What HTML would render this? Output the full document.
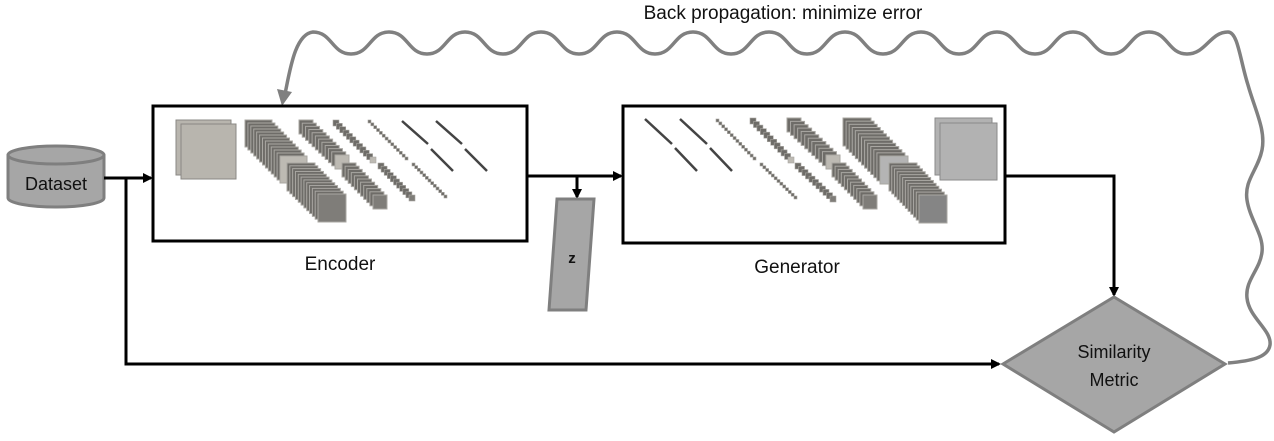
<!DOCTYPE html>
<html><head><meta charset="utf-8"><style>
html,body{margin:0;padding:0;background:#fff;}
svg{display:block;}
text{font-family:"Liberation Sans",sans-serif;}
</style></head><body>
<svg id="s" width="1274" height="441" viewBox="0 0 1274 441" xmlns="http://www.w3.org/2000/svg">
<defs>
<marker id="ab" markerWidth="10" markerHeight="10" refX="8" refY="5" orient="auto" markerUnits="userSpaceOnUse"><path d="M0,0 L10,5 L0,10 z" fill="#000"/></marker>
</defs>
<text x="783" y="19" font-size="19" text-anchor="middle" fill="#111">Back propagation: minimize error</text>
<path fill="none" stroke="#808080" stroke-width="3.5" d="M285,94 C290,70 295,34 313,32
C332,32 332,54 351,54 C370,54 370,32 389,32
C408,32 408,54 427,54 C446,54 446,32 465,32
C484,32 484,54 503,54 C522,54 522,32 541,32
C560,32 560,54 579,54 C598,54 598,32 617,32
C636,32 636,54 655,54 C674,54 674,32 693,32
C712,32 712,54 731,54 C750,54 750,32 769,32
C788,32 788,54 807,54 C826,54 826,32 845,32
C864,32 864,54 883,54 C902,54 902,32 921,32
C940,32 940,54 959,54 C978,54 978,32 997,32
C1016,32 1016,54 1035,54 C1054,54 1054,32 1073,32
C1092,32 1092,54 1111,54 C1130,54 1130,32 1149,32
C1168,32 1168,54 1187,54 C1206,54 1210,32 1228,32
C1238,32 1240,60 1248,85 C1255,110 1266,130 1262,150 C1258,170 1244,180 1247,200 C1250,220 1264,235 1262,252 C1260,270 1245,280 1247,298 C1249,318 1272,330 1270,345 C1268,358 1250,361 1228,363"/>
<polygon points="282,106 277,89 292,92" fill="#808080"/>
<path d="M8,155 L8,198 A48,9 0 0 0 104,198 L104,155" fill="#a6a6a6" stroke="#7f7f7f" stroke-width="3"/>
<ellipse cx="56" cy="155" rx="48" ry="9" fill="#a6a6a6" stroke="#7f7f7f" stroke-width="3"/>
<text x="56" y="190" font-size="18" text-anchor="middle" fill="#111">Dataset</text>
<rect x="153" y="106" width="374" height="135" fill="#fff" stroke="#000" stroke-width="3"/>
<rect x="623" y="106" width="382" height="137" fill="#fff" stroke="#000" stroke-width="3"/>
<g id="layers"></g>
<text x="340" y="270" font-size="19" text-anchor="middle" fill="#111">Encoder</text>
<text x="797" y="273" font-size="19" text-anchor="middle" fill="#111">Generator</text>
<line x1="104" y1="178" x2="151" y2="178" stroke="#000" stroke-width="3" marker-end="url(#ab)"/>
<polyline points="126,178 126,364 999,364" fill="none" stroke="#000" stroke-width="3" marker-end="url(#ab)"/>
<line x1="527" y1="176" x2="621" y2="176" stroke="#000" stroke-width="3" marker-end="url(#ab)"/>
<line x1="577" y1="176" x2="577" y2="197" stroke="#000" stroke-width="3" marker-end="url(#ab)"/>
<polyline points="1005,176 1114,176 1114,295" fill="none" stroke="#000" stroke-width="3" marker-end="url(#ab)"/>
<polygon points="557,199 594,199 586,310 549,310" fill="#a6a6a6" stroke="#7f7f7f" stroke-width="3"/>
<text x="572" y="263" font-size="15" font-weight="bold" text-anchor="middle" fill="#111">z</text>
<polygon points="1003,364 1114,297 1225,364 1114,432" fill="#a6a6a6" stroke="#7f7f7f" stroke-width="3"/>
<text x="1114" y="358" font-size="18" text-anchor="middle" fill="#111">Similarity</text>
<text x="1114" y="386" font-size="18" text-anchor="middle" fill="#111">Metric</text>
</svg>
<script>
var NS="http://www.w3.org/2000/svg",g=document.getElementById("layers");
function r(x,y,s,f,st){var e=document.createElementNS(NS,"rect");e.setAttribute("x",x);e.setAttribute("y",y);e.setAttribute("width",s);e.setAttribute("height",s);e.setAttribute("fill",f);e.setAttribute("stroke",st||"#a9a7a2");e.setAttribute("stroke-width",s>8?1:0.6);g.appendChild(e);}
function stack(x0,y0,x1,y1,s,n,last){for(var i=0;i<n;i++){var t=i/(n-1);r(x0+(x1-x0)*t,y0+(y1-y0)*t,s,i==n-1?last:"#6e6c68");}}
function ln(x0,y0,x1,y1){var e=document.createElementNS(NS,"line");e.setAttribute("x1",x0);e.setAttribute("y1",y0);e.setAttribute("x2",x1);e.setAttribute("y2",y1);e.setAttribute("stroke","#444");e.setAttribute("stroke-width",2.5);g.appendChild(e);}
r(176,120,55,"#b8b5ae","#8a8884");r(181,124,55,"#b8b5ae","#8a8884");
stack(245,120,280,156,27,13,"#bdbab3");stack(287,163,318,194,28,12,"#7f7d79");
stack(299,120,335,155,14,12,"#bdbab3");stack(342,163,373,195,14,11,"#7f7d79");
stack(333,120,370,157,6,12,"#bdbab3");stack(378,163,409,195,6,11,"#7f7d79");
stack(368,120,405,157,3,14,"#6e6c68");stack(412,163,444,195,3,13,"#6e6c68");
ln(402,121,428,144);ln(431,149,453,171);ln(436,121,462,144);ln(465,149,487,171);
ln(645,119,672,144);ln(675,148,697,171);ln(680,119,707,144);ln(710,148,732,171);
stack(716,119,753,157,3,14,"#6e6c68");stack(760,163,794,196,3,13,"#6e6c68");
stack(750,118,788,157,6,12,"#bdbab3");stack(795,163,830,196,6,11,"#7f7d79");
stack(787,118,826,155,14,12,"#bdbab3");stack(832,163,863,195,14,11,"#7f7d79");
stack(843,118,880,156,28,13,"#b4b4b4");stack(889,163,919,195,28,12,"#858585");
r(935,118,57,"#b2b2b2","#8a8a8a");r(940,123,57,"#b2b2b2","#8a8a8a");
</script>
</body></html>
